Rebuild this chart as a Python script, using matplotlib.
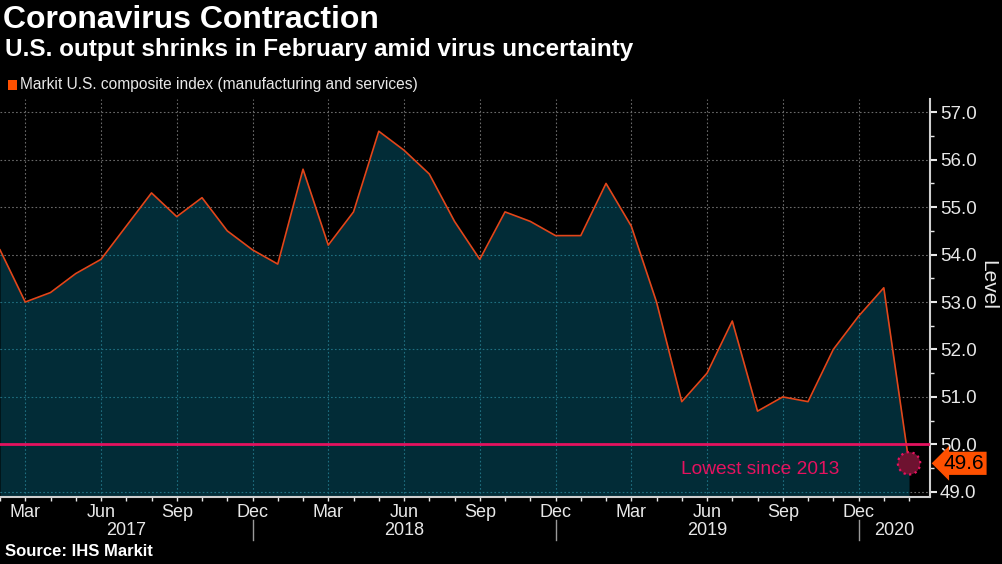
import matplotlib
matplotlib.use('Agg')
import matplotlib.pyplot as plt
import matplotlib.transforms as mtransforms
from matplotlib.patches import Rectangle
import numpy as np
import pandas as pd

# --- data: Markit U.S. composite PMI, Feb 2017 .. Feb 2020 ---
start_month = '2017-02'
values = [54.1, 53.0, 53.2, 53.6, 53.9, 54.6, 55.3, 54.8, 55.2, 54.5, 54.1,
          53.8, 55.8, 54.2, 54.9, 56.6, 56.2, 55.7, 54.7, 53.9, 54.9, 54.7, 54.4,
          54.4, 55.5, 54.6, 53.0, 50.9, 51.5, 52.6, 50.7, 51.0, 50.9, 52.0, 52.7,
          53.3, 49.6]
quarter_months = ['Mar', 'Jun', 'Sep', 'Dec']
y_ticks = [49, 50, 51, 52, 53, 54, 55, 56, 57]
threshold = 50.0
note_text = 'Lowest since 2013'
legend_text = 'Markit U.S. composite index (manufacturing and services)'

# --- styles ---
BG = '#000000'
FILL = '#022c37'
LINE = '#e2461a'
GRID = '#6a6a6a'
GRID_IN = '#1f6f80'
PINK = '#e5125f'
ORANGE = '#ff5000'
TXT = '#e8e8e8'
FONT = ['Liberation Sans Narrow', 'Liberation Sans', 'DejaVu Sans']
plt.rcParams['font.family'] = FONT

dates = pd.date_range(start_month, periods=len(values), freq='MS')
x = np.arange(len(values))
YMIN, YMAX = 48.89, 57.28
XMAX = len(values) - 1 + 0.83

fig = plt.figure(figsize=(10.03, 5.64), dpi=100, facecolor=BG)
ax = fig.add_axes([0.0, 1 - 497 / 564, 930 / 1003, 398 / 564])
ax.set_facecolor(BG)
ax.set_xlim(0, XMAX)
ax.set_ylim(YMIN, YMAX)

# grid (gray on black)
q_idx = [i for i, d in enumerate(dates) if d.strftime('%b') in quarter_months]
for v in y_ticks:
    ax.axhline(v, color=GRID, ls=(0, (1.5, 2)), lw=0.8, zorder=0)
for i in q_idx:
    ax.axvline(i, color=GRID, ls=(0, (1.5, 2)), lw=0.8, zorder=0)

# area
poly = ax.fill_between(x, values, YMIN - 1, color=FILL, lw=0, zorder=1)
clip_path = poly.get_paths()[0]
for v in y_ticks:
    l = ax.axhline(v, color=GRID_IN, ls=(0, (1.5, 2)), lw=0.8, zorder=2)
    l.set_clip_path(clip_path, ax.transData)
for i in q_idx:
    l = ax.axvline(i, color=GRID_IN, ls=(0, (1.5, 2)), lw=0.8, zorder=2)
    l.set_clip_path(clip_path, ax.transData)
ax.plot(x, values, color=LINE, lw=1.2, zorder=3)

# threshold line + note
ax.axhline(threshold, color=PINK, lw=2, zorder=4)
ax.text(30.1, 49.47, note_text, color=PINK, fontsize=13.8, ha='center', va='center', zorder=5)

# last point marker
ax.scatter([x[-1]], [values[-1]], s=260, facecolor='#6e1230', edgecolor=PINK,
           linestyle=':', linewidth=1.6, zorder=6, clip_on=False)

# spines
for s in ['left', 'top']:
    ax.spines[s].set_visible(False)
for s in ['right', 'bottom']:
    ax.spines[s].set_color('#cfcfcf')
    ax.spines[s].set_linewidth(1.5)

# y axis on right
ax.yaxis.tick_right()
ax.set_yticks(y_ticks)
ax.set_yticklabels([f'{v:.1f}' for v in y_ticks])
ax.set_yticks([v + 0.5 for v in y_ticks[:-1]], minor=True)
ax.tick_params(axis='y', which='major', colors=TXT, labelsize=13.5, length=5, width=1.5, pad=2)
ax.tick_params(axis='y', which='minor', colors=TXT, length=3, width=1)
fig.text(0.985, 1 - 285 / 564, 'Level', rotation=270, color=TXT, fontsize=15,
         ha='center', va='center')

# value tag
ax.annotate(f'{values[-1]:.1f}', xy=(1.0, values[-1]), xycoords=('axes fraction', 'data'),
            xytext=(10, 0), textcoords='offset points', ha='left', va='center',
            fontsize=15, color='black', annotation_clip=False,
            bbox=dict(boxstyle='larrow,pad=0.1', fc=ORANGE, ec='none'))

# x axis
ax.set_xticks(x, minor=True)
ax.set_xticks(q_idx)
ax.set_xticklabels([dates[i].strftime('%b') for i in q_idx])
ax.tick_params(axis='x', which='both', colors=TXT, length=3, width=1, labelsize=13, pad=2)

trans = mtransforms.blended_transform_factory(ax.transData, ax.transAxes)
dec_idx = [i for i, d in enumerate(dates) if d.month == 12]
bounds = [0] + dec_idx + [XMAX]
years = sorted(set(dates.year))
for k, yr in enumerate(years):
    ax.text((bounds[k] + bounds[k + 1]) / 2, -0.083, str(yr), transform=trans,
            color=TXT, fontsize=13, ha='center', va='center')
for i in dec_idx:
    ax.plot([i, i], [-0.058, -0.108], transform=trans, color='#9a9a9a', lw=1, clip_on=False)

# titles / legend / source
fig.text(0.003, 1 - 5 / 564, 'Coronavirus Contraction', color='white', fontsize=23,
         fontweight='bold', ha='left', va='top')
fig.text(0.005, 1 - 38 / 564, 'U.S. output shrinks in February amid virus uncertainty',
         color='white', fontsize=17.5, fontweight='bold', ha='left', va='top')
fig.patches.append(Rectangle((8 / 1003, 1 - 90 / 564), 9 / 1003, 10 / 564,
                             transform=fig.transFigure, fc=ORANGE, ec='none'))
fig.text(20 / 1003, 1 - 85 / 564, legend_text, color=TXT, fontsize=11.2, ha='left', va='center')
fig.text(0.005, 1 - 552 / 564, 'Source: IHS Markit', color='white', fontsize=12,
         fontweight='bold', ha='left', va='center')

fig.savefig('out.png', dpi=100, facecolor=BG)
